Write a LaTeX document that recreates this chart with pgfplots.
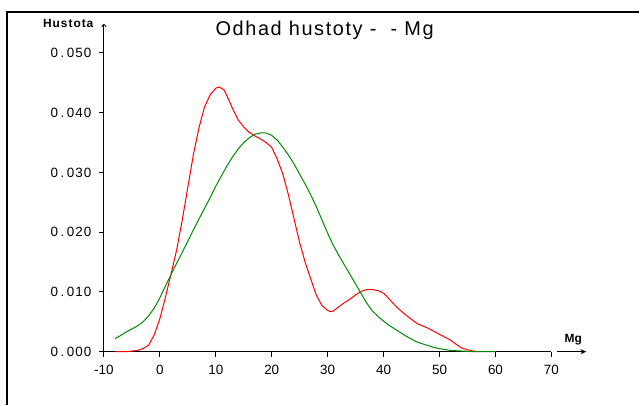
\documentclass[border=0pt]{standalone}
\usepackage{fontspec}
\setmainfont{Liberation Sans}
\usepackage{pgfplots}
\pgfplotsset{compat=1.18}
\usetikzlibrary{arrows.meta}
\definecolor{kred}{RGB}{255,0,0}
\definecolor{kgreen}{RGB}{0,140,0}
\newcommand{\yl}[1]{\addfontfeature{LetterSpace=8}0\kern2.5bp.\kern2.5bp#1}
\begin{document}
\begin{tikzpicture}[x=1bp,y=1bp]
\path[fill=white] (0,0) rectangle (640,405);
\draw[line width=1.3bp] (7,0) -- (7,393) -- (640,393);
\begin{axis}[
  at={(104bp,53bp)}, anchor=south west,
  scale only axis, width=448bp, height=299bp,
  xmin=-10, xmax=70, ymin=0, ymax=0.05,
  axis lines=left,
  scaled y ticks=false, scaled x ticks=false,
  x axis line style={-, line width=0.9bp},
  y axis line style={-, line width=0.9bp},
  xtick={-10,0,10,20,30,40,50,60,70},
  ytick={0,0.01,0.02,0.03,0.04,0.05},
  yticklabels={\yl{000},\yl{010},\yl{020},\yl{030},\yl{040},\yl{050}},
  xticklabels={-10,0,10,20,30,40,50,60,70},
  tick align=outside, major tick length=5bp,
  tick style={black, line width=0.9bp},
  xticklabel style={font=\fontsize{13.5}{13.5}\selectfont, yshift=-5bp},
  yticklabel style={font=\fontsize{13.5}{13.5}\selectfont, xshift=-4bp},
  clip=false,
]
\addplot[kred, line width=1bp] coordinates {
(-8,0) (-6,0) (-5,0.0001) (-4,0.0002) (-3,0.0005) (-2,0.0011) (-1,0.0028)
(0,0.0055) (1,0.0091) (2,0.013) (3,0.017) (4,0.022) (5,0.0275) (6,0.033)
(7,0.0375) (8,0.041) (9,0.043) (10,0.0441) (10.6,0.0443) (11.5,0.0438)
(12,0.0428) (13,0.0407) (14,0.0388) (15,0.0376) (16,0.0367) (17,0.0361)
(18,0.0356) (19,0.0350) (20,0.0342) (21,0.0322) (22,0.0297) (23,0.0262)
(24,0.0222) (25,0.0182) (26,0.0149) (27,0.0121) (28,0.0094) (29,0.0077)
(30,0.0069) (30.5,0.0067) (31,0.0068) (32,0.0075) (33,0.0082) (34,0.0088)
(35,0.0095) (36,0.0101) (37,0.0104) (38,0.0104) (39,0.0102) (40,0.0098)
(41,0.0088) (42,0.0078) (43,0.0069) (44,0.0061) (45,0.0054) (46,0.0047)
(47,0.0043) (48,0.0039) (49,0.0034) (50,0.0029) (51,0.0024) (52,0.0019)
(53,0.0012) (54,0.0006) (55,0.0003) (56,0.0001) (57,0)
};
\addplot[kgreen, line width=1bp] coordinates {
(-8,0.0022) (-7,0.0027) (-6,0.0033) (-5,0.0038) (-4,0.0043) (-3,0.005)
(-2,0.006) (-1,0.0073) (0,0.009) (1,0.011) (2,0.0129) (3,0.0148) (4,0.0166)
(5,0.0185) (6,0.0204) (7,0.0222) (8,0.024) (9,0.0258) (10,0.0277) (11,0.0294)
(12,0.0311) (13,0.0326) (14,0.0339) (15,0.035) (16,0.0358) (17,0.0364)
(18,0.0366) (19,0.0366) (20,0.0362) (21,0.0354) (22,0.0342) (23,0.0329)
(24,0.0314) (25,0.0297) (26,0.028) (27,0.0262) (28,0.0242) (29,0.022)
(30,0.0198) (31,0.0178) (32,0.0161) (33,0.0145) (34,0.0129) (35,0.0113)
(36,0.0097) (37,0.0081) (38,0.0068) (39,0.0059) (40,0.0051) (41,0.0044)
(42,0.0038) (43,0.0032) (44,0.0026) (45,0.0021) (46,0.0016) (47,0.0013)
(48,0.001) (49,0.0007) (50,0.0005) (52,0.0002) (54,0.0001) (56,0) (60,0)
};
\end{axis}
\draw[line width=0.9bp, -{Stealth[length=6bp,width=5bp]}] (558,53) -- (587,53);
\draw[line width=0.9bp, -{To[length=3bp,width=5bp]}] (104,350) -- (104,381);
\node[anchor=base, inner sep=0] at (325,369) {\fontsize{20}{20}\selectfont\addfontfeature{LetterSpace=8}Odhad hustoty -\ \ - Mg};
\node[anchor=base west, inner sep=0] at (43,377) {\bfseries\fontsize{12}{12}\selectfont\addfontfeature{LetterSpace=8}Hustota};
\node[anchor=base west, inner sep=0] at (565,62) {\bfseries\fontsize{12}{12}\selectfont Mg};
\end{tikzpicture}
\end{document}
